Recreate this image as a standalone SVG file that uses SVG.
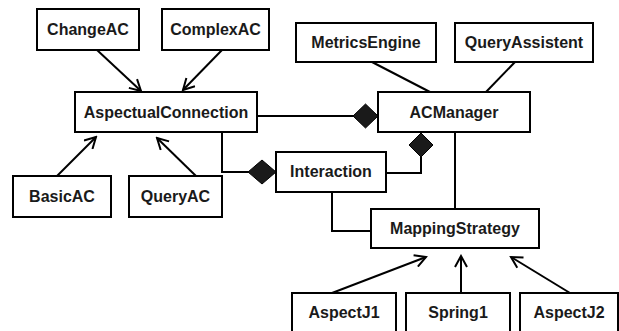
<svg xmlns="http://www.w3.org/2000/svg" width="619" height="331" viewBox="0 0 619 331">
  <style>
    .box { fill: #ffffff; stroke: #000000; stroke-width: 2; }
    .lbl { font-family: "Liberation Sans", Arial, sans-serif; font-weight: bold; font-size: 16px; fill: #1a1a1a; text-anchor: middle; }
    .ln { fill: none; stroke: #000000; stroke-width: 2; }
    .gen { marker-end: url(#openArrow); }
    .dia { fill: #1a1a1a; stroke: #000000; stroke-width: 1; }
  </style>
  <defs>
    <marker id="openArrow" viewBox="0 0 14 14" refX="12" refY="7" markerWidth="14" markerHeight="14" markerUnits="userSpaceOnUse" orient="auto">
      <path d="M1,1 L12,7 L1,13" fill="none" stroke="#000000" stroke-width="2"/>
    </marker>
  </defs>

  <rect width="619" height="331" fill="#ffffff"/>

  <!-- connectors -->
  <g id="connectors">
    <line class="ln gen" x1="97" y1="50" x2="141" y2="91"/>
    <line class="ln gen" x1="222" y1="50" x2="183" y2="90"/>
    <line class="ln gen" x1="57" y1="176" x2="96" y2="137"/>
    <line class="ln gen" x1="196" y1="176" x2="157" y2="138"/>
    <line class="ln" x1="257" y1="116" x2="354" y2="116"/>
    <polyline class="ln" points="222,132 222,172 249,172"/>
    <line class="ln" x1="372" y1="62" x2="430" y2="92"/>
    <line class="ln" x1="515" y1="62" x2="486" y2="92"/>
    <polyline class="ln" points="386,173 421,173 421,157"/>
    <line class="ln" x1="455" y1="132" x2="455" y2="209"/>
    <polyline class="ln" points="332,192 332,231 371,231"/>
    <line class="ln gen" x1="332" y1="293" x2="426" y2="257"/>
    <line class="ln gen" x1="461" y1="293" x2="461" y2="256"/>
    <line class="ln gen" x1="570" y1="293" x2="511" y2="257"/>
    <!-- composition diamonds -->
    <polygon class="dia" points="378,116 365.5,104 353,116 365.5,128"/>
    <polygon class="dia" points="421,133 433,145 421,157 409,145"/>
    <polygon class="dia" points="276,172 262,160 248,172 262,184"/>
  </g>

  <g id="ChangeAC">
    <rect class="box" x="37" y="9" width="102" height="41"/>
    <text class="lbl" x="88" y="35">ChangeAC</text>
  </g>
  <g id="ComplexAC">
    <rect class="box" x="162" y="9" width="107" height="41"/>
    <text class="lbl" x="215.5" y="35">ComplexAC</text>
  </g>
  <g id="MetricsEngine">
    <rect class="box" x="296" y="23" width="140" height="39"/>
    <text class="lbl" x="366" y="48">MetricsEngine</text>
  </g>
  <g id="QueryAssistent">
    <rect class="box" x="455" y="23" width="138" height="39"/>
    <text class="lbl" x="524" y="48">QueryAssistent</text>
  </g>
  <g id="AspectualConnection">
    <rect class="box" x="75" y="92" width="182" height="40"/>
    <text class="lbl" x="166" y="117.5">AspectualConnection</text>
  </g>
  <g id="ACManager">
    <rect class="box" x="378" y="92" width="152" height="40"/>
    <text class="lbl" x="454" y="117.5">ACManager</text>
  </g>
  <g id="BasicAC">
    <rect class="box" x="13" y="176" width="98" height="41"/>
    <text class="lbl" x="62" y="202">BasicAC</text>
  </g>
  <g id="QueryAC">
    <rect class="box" x="129" y="176" width="93" height="41"/>
    <text class="lbl" x="175.5" y="202">QueryAC</text>
  </g>
  <g id="Interaction">
    <rect class="box" x="276" y="152" width="110" height="40"/>
    <text class="lbl" x="331" y="177">Interaction</text>
  </g>
  <g id="MappingStrategy">
    <rect class="box" x="371" y="209" width="168" height="39"/>
    <text class="lbl" x="455" y="234">MappingStrategy</text>
  </g>
  <g id="AspectJ1">
    <rect class="box" x="292" y="293" width="104" height="50"/>
    <text class="lbl" x="344" y="318">AspectJ1</text>
  </g>
  <g id="Spring1">
    <rect class="box" x="406" y="293" width="104" height="50"/>
    <text class="lbl" x="458" y="318">Spring1</text>
  </g>
  <g id="AspectJ2">
    <rect class="box" x="520" y="293" width="98" height="50"/>
    <text class="lbl" x="569" y="318">AspectJ2</text>
  </g>
</svg>
